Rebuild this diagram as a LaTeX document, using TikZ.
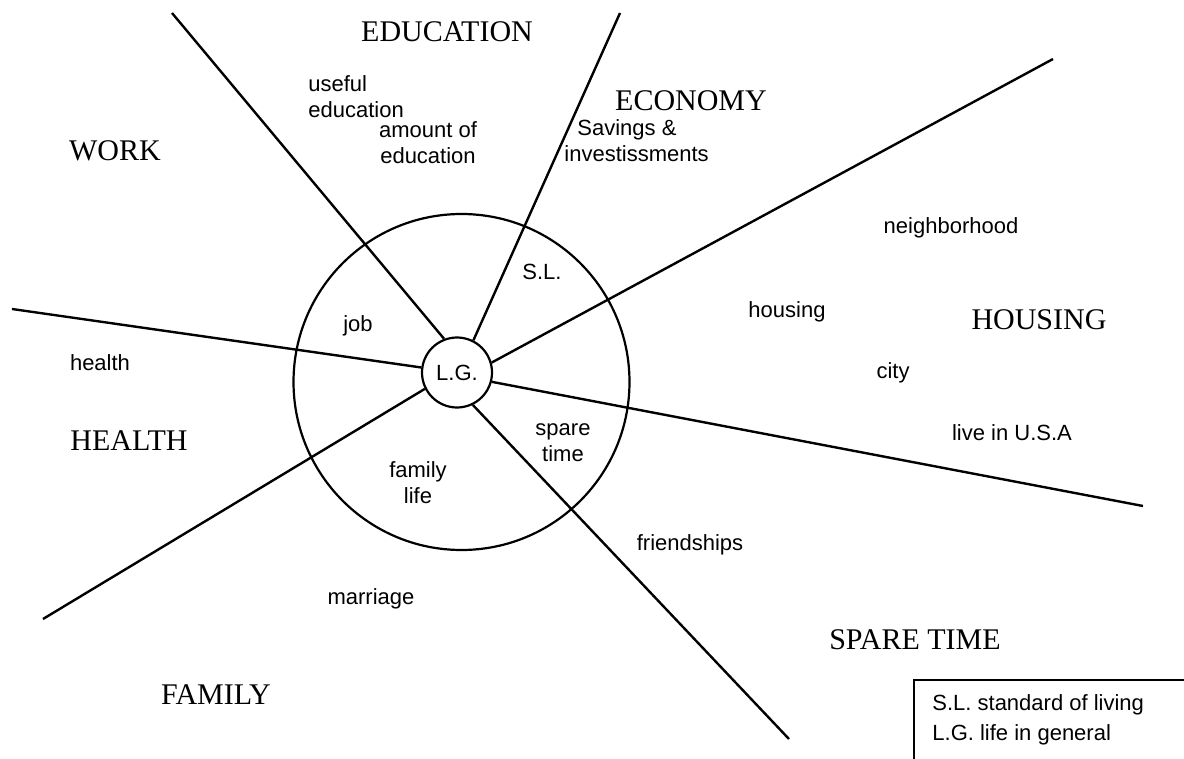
\documentclass[tikz,border=0pt]{standalone}
\usepackage{fontspec}
\setmainfont{Liberation Serif}
\setsansfont{Liberation Sans}

\begin{document}
\begin{tikzpicture}[
    x=0.5pt, y=-0.5pt,
    every node/.style={inner sep=0pt},
    area/.style={font=\fontsize{15}{17}\selectfont},
    item/.style={font=\sffamily\fontsize{11}{13}\selectfont, align=center},
    ray/.style={line width=1.2pt},
    ring/.style={circle, draw, line width=1.1pt}
]
\useasboundingbox (0,0) rectangle (1184,759);
\clip (0,0) rectangle (1184,759);

% Circles
\node[ring, minimum size=168pt] (outer) at (461.5,382) {};
\node[ring, minimum size=35pt, font=\sffamily\fontsize{11}{13}\selectfont] (lg) at (457,372.5) {L.G.};

% Free ends of the rays
\coordinate (workedu) at (172,13);
\coordinate (educon) at (620,13);
\coordinate (econhouse) at (1053,59);
\coordinate (healthwork) at (12,309);
\coordinate (housespare) at (1143,506);
\coordinate (famhealth) at (43,619);
\coordinate (sparefam) at (789,739);

% Rays
\draw[ray] (lg.111) -- (workedu);
\draw[ray] (lg.63) -- (educon);
\draw[ray] (lg.16) -- (econhouse);
\draw[ray] (lg.172) -- (healthwork);
\draw[ray] (lg.345) -- (housespare);
\draw[ray] (lg.207) -- (famhealth);
\draw[ray] (lg.296) -- (sparefam);

% Areas
\node[area] (education) at (447,32) {EDUCATION};
\node[area] (economy) at (691,101) {ECONOMY};
\node[area] (work) at (115,151) {WORK};
\node[area] (housing) at (1039,320) {HOUSING};
\node[area] (health) at (129,441) {HEALTH};
\node[area] (sparetime) at (915,640) {SPARE TIME};
\node[area] (family) at (216,695) {FAMILY};

% Items
\node[item, align=left, anchor=west] (useful) at (308,97) {useful\\education};
\node[item] (amount) at (428,143) {amount of\\education};
\node[item, align=left, anchor=west] (savings) at (564,141) {\hspace{6.5pt}Savings \&\\investissments};
\node[item] (neighborhood) at (951,228) {neighborhood};
\node[item] (sl) at (542,272) {S.L.};
\node[item] (job) at (358,326) {job};
\node[item] (housingitem) at (787,312) {housing};
\node[item] (healthitem) at (100,363) {health};
\node[item] (city) at (893,373) {city};
\node[item] (usa) at (1012,433) {live in U.S.A};
\node[item] (spare) at (563,443) {spare\\time};
\node[item] (familylife) at (418,483) {family\\life};
\node[item] (friendships) at (690,545) {friendships};
\node[item] (marriage) at (371,599) {marriage};

% Legend
\node[item, align=left, anchor=north west, font=\sffamily\fontsize{11}{15}\selectfont]
    (legend) at (932,694) {S.L. standard of living\\L.G. life in general};
\draw[line width=0.8pt] (1190,680) -- (914,680) -- (914,770);

\end{tikzpicture}
\end{document}
